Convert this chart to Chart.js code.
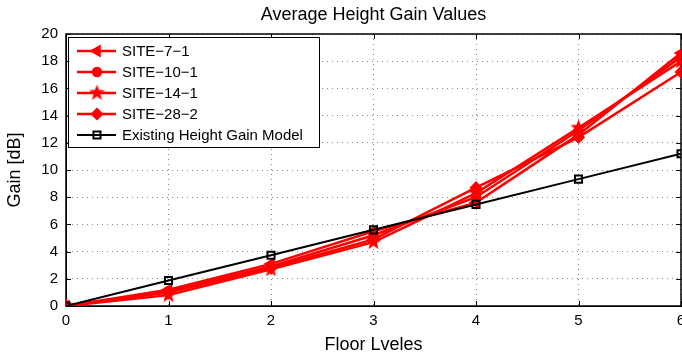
<!DOCTYPE html>
<html><head><meta charset="utf-8">
<script src="https://cdn.jsdelivr.net/npm/chart.js@4/dist/chart.umd.min.js"></script>
<style>html,body{margin:0;padding:0;background:#fff;overflow:hidden}#wrap{width:682px;height:357px;position:relative}</style>
</head><body><div id="wrap"><canvas id="c" width="682" height="357"></canvas></div>
<script>
const floors = [0, 1, 2, 3, 4, 5, 6];
const site71 = [0, 1.2, 3.1, 5.5, 7.6, 12.6, 18.6];
const site101 = [0, 1.1, 2.9, 5.2, 8.0, 12.9, 18.3];
const site141 = [0, 0.8, 2.7, 4.7, 8.3, 13.1, 18.0];
const site282 = [0, 1.0, 2.8, 4.9, 8.7, 12.4, 17.2];
const modelGain = [0, 1.87, 3.73, 5.6, 7.47, 9.33, 11.2];
const seriesNames = ['SITE\u22127\u22121', 'SITE\u221210\u22121', 'SITE\u221214\u22121', 'SITE\u221228\u22122', 'Existing Height Gain Model'];
const xTickValues = [0, 1, 2, 3, 4, 5, 6];
const yTickValues = [0, 2, 4, 6, 8, 10, 12, 14, 16, 18, 20];
const chartTitle = 'Average Height Gain Values';
const xTitle = 'Floor Lveles';
const yTitle = 'Gain [dB]';

const FONT = 'Liberation Sans, Arial, Helvetica, sans-serif';

// filled 5-point star marker
function makeStar(size, color) {
  const c = document.createElement('canvas');
  c.width = size; c.height = size;
  const g = c.getContext('2d');
  const cx = size / 2, cy = size / 2, ro = size / 2, ri = ro * 0.42;
  g.beginPath();
  for (let i = 0; i < 10; i++) {
    const r = i % 2 === 0 ? ro : ri;
    const a = -Math.PI / 2 + i * Math.PI / 5;
    const px = cx + r * Math.cos(a), py = cy + r * Math.sin(a);
    if (i === 0) g.moveTo(px, py); else g.lineTo(px, py);
  }
  g.closePath();
  g.fillStyle = color; g.fill();
  return c;
}
const starImg = makeStar(17, '#ff0000');

function pts(arr) { return floors.map((f, i) => ({ x: f, y: arr[i] })); }

const RED = '#ff0000';
const datasets = [
  { label: seriesNames[0], data: pts(site71), borderColor: RED, backgroundColor: RED, borderWidth: 2.5,
    pointStyle: 'triangle', pointRotation: 270, pointRadius: 6, pointBorderWidth: 1.5, order: 1 },
  { label: seriesNames[1], data: pts(site101), borderColor: RED, backgroundColor: RED, borderWidth: 2.5,
    pointStyle: 'circle', pointRadius: 4.5, pointBorderWidth: 1.5, order: 2 },
  { label: seriesNames[2], data: pts(site141), borderColor: RED, backgroundColor: RED, borderWidth: 2.5,
    pointStyle: starImg, pointRadius: 6, pointBorderWidth: 1.5, order: 3 },
  { label: seriesNames[3], data: pts(site282), borderColor: RED, backgroundColor: RED, borderWidth: 2.5,
    pointStyle: 'rectRot', pointRadius: 5.5, pointBorderWidth: 1.5, order: 4 },
  { label: seriesNames[4], data: pts(modelGain), borderColor: '#000', backgroundColor: 'rgba(255,255,255,0)', borderWidth: 2,
    pointStyle: 'rect', pointRadius: 5, pointBorderWidth: 2, order: 0 }
];

const frameTicks = {
  id: 'frameTicks',
  beforeDatasetsDraw(chart) {
    const { ctx, chartArea: a, scales: { x, y } } = chart;
    ctx.save();
    ctx.strokeStyle = '#000'; ctx.lineWidth = 1;
    ctx.beginPath();
    const L = 5;
    xTickValues.forEach(v => {
      const px = Math.round(x.getPixelForValue(v)) + 0.5;
      ctx.moveTo(px, a.bottom); ctx.lineTo(px, a.bottom - L);
      ctx.moveTo(px, a.top); ctx.lineTo(px, a.top + L);
    });
    yTickValues.forEach(v => {
      const py = Math.round(y.getPixelForValue(v)) + 0.5;
      ctx.moveTo(a.left, py); ctx.lineTo(a.left + L, py);
      ctx.moveTo(a.right, py); ctx.lineTo(a.right - L, py);
    });
    ctx.stroke();
    ctx.lineWidth = 1.5;
    ctx.strokeRect(a.left, a.top, a.right - a.left, a.bottom - a.top);
    ctx.restore();
  }
};

const plotTitle = {
  id: 'plotTitle',
  afterDraw(chart) {
    const { ctx, chartArea: a } = chart;
    ctx.save();
    ctx.fillStyle = '#000';
    ctx.font = '18px ' + FONT;
    ctx.textAlign = 'center';
    ctx.textBaseline = 'middle';
    ctx.fillText(chartTitle, (a.left + a.right) / 2, 15);
    ctx.restore();
  }
};

const legendBox = {
  id: 'legendBox',
  afterDraw(chart) {
    const { ctx } = chart;
    const bx = 68, by = 37, bw = 251, bh = 110;
    ctx.save();
    ctx.fillStyle = '#fff';
    ctx.fillRect(bx, by, bw, bh);
    ctx.strokeStyle = '#000'; ctx.lineWidth = 1;
    ctx.strokeRect(bx + 0.5, by + 0.5, bw, bh);
    const rows = [51, 72, 93, 114, 135];
    chart.data.datasets.forEach((ds, i) => {
      const yy = rows[i];
      ctx.strokeStyle = ds.borderColor;
      ctx.lineWidth = ds.borderWidth;
      ctx.beginPath(); ctx.moveTo(77, yy); ctx.lineTo(116, yy); ctx.stroke();
      ctx.fillStyle = ds.backgroundColor;
      ctx.lineWidth = ds.pointBorderWidth;
      Chart.helpers.drawPoint(ctx, {
        pointStyle: ds.pointStyle, rotation: ds.pointRotation || 0,
        radius: ds.pointRadius, borderWidth: ds.pointBorderWidth
      }, 97, yy);
      ctx.fillStyle = '#000';
      ctx.font = '15px ' + FONT;
      ctx.textBaseline = 'middle';
      ctx.textAlign = 'left';
      ctx.fillText(ds.label, 122, yy + 1);
    });
    ctx.restore();
  }
};

new Chart(document.getElementById('c'), {
  type: 'line',
  data: { datasets },
  options: {
    responsive: false,
    animation: false,
    devicePixelRatio: 1,
    layout: { autoPadding: false, padding: { left: 0, right: 1, top: 34, bottom: 0 } },
    plugins: {
      legend: { display: false },
      tooltip: { enabled: false },
      title: { display: false }
    },
    scales: {
      x: {
        type: 'linear', min: 0, max: 6,
        afterBuildTicks(s) { s.ticks = xTickValues.map(v => ({ value: v })); },
        afterFit(s) { s.paddingLeft = 0; s.paddingRight = 0; s.height = 51; },
        ticks: { color: '#000', font: { family: FONT, size: 15, lineHeight: 1.2 }, padding: 6, maxRotation: 0,
                 callback: v => String(v) },
        grid: { color: '#888', lineWidth: 1, drawTicks: false },
        border: { display: true, color: '#000', width: 1, dash: [1, 4] },
        title: { display: true, text: xTitle, color: '#000',
                 font: { family: FONT, size: 18, lineHeight: 1.2 }, padding: { top: 0, bottom: 1.2 } }
      },
      y: {
        type: 'linear', min: 0, max: 20,
        afterBuildTicks(s) { s.ticks = yTickValues.map(v => ({ value: v })); },
        afterFit(s) { s.paddingTop = 0; s.paddingBottom = 0; s.width = 66; },
        ticks: { color: '#000', font: { family: FONT, size: 15 }, padding: 8,
                 callback: v => String(v) },
        grid: { color: '#888', lineWidth: 1, drawTicks: false },
        border: { display: true, color: '#000', width: 1, dash: [1, 4] },
        title: { display: true, text: yTitle, color: '#000',
                 font: { family: FONT, size: 18, lineHeight: 1.2 }, padding: { top: 4, bottom: 0 } }
      }
    }
  },
  plugins: [frameTicks, legendBox, plotTitle]
});
</script>
</body></html>
